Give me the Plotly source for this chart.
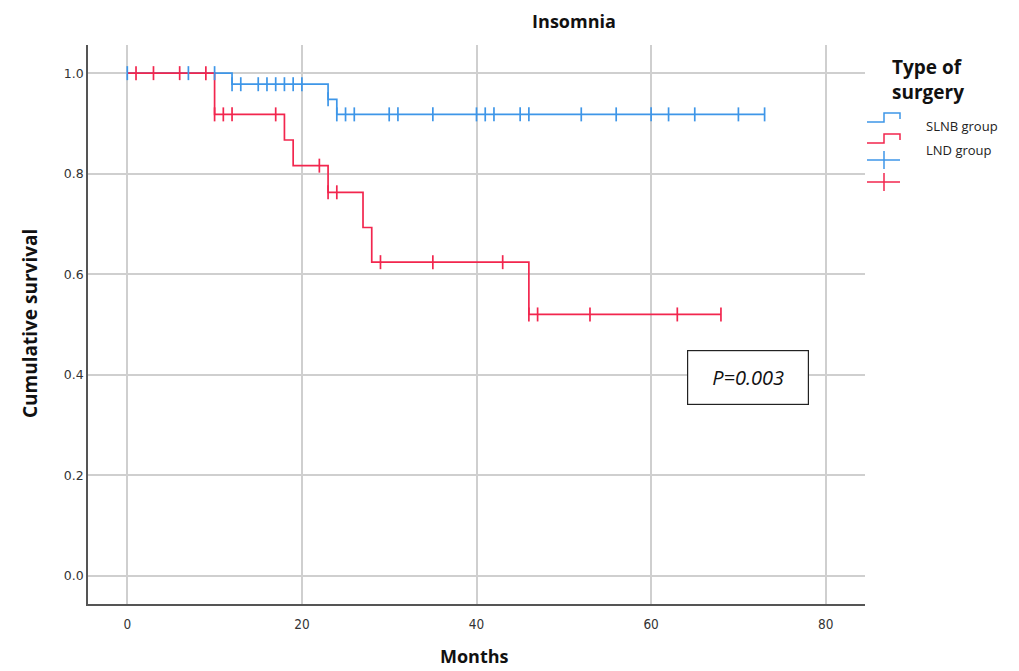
import plotly.graph_objects as go

# ---- data ----
slnb_time = [0, 12, 23, 24, 73]
slnb_surv = [1.0, 0.978, 0.948, 0.918, 0.918]
slnb_cens_t = [0, 7, 10, 12, 13, 15, 16, 17, 18, 19, 20, 23, 24, 25, 26, 30, 31, 35,
               40, 41, 42, 45, 46, 52, 56, 60, 62, 65, 70, 73]
slnb_cens_s = [1.0, 1.0, 1.0, 0.978, 0.978, 0.978, 0.978, 0.978, 0.978, 0.978, 0.978, 0.948,
               0.918, 0.918, 0.918, 0.918, 0.918, 0.918, 0.918, 0.918, 0.918, 0.918, 0.918,
               0.918, 0.918, 0.918, 0.918, 0.918, 0.918, 0.918]

lnd_time = [0, 10, 18, 19, 23, 27, 28, 46, 68]
lnd_surv = [1.0, 0.918, 0.867, 0.816, 0.763, 0.693, 0.624, 0.520, 0.520]
lnd_cens_t = [1, 3, 6, 9, 10, 11, 12, 17, 22, 23, 24, 29, 35, 43, 46, 47, 53, 63, 68]
lnd_cens_s = [1.0, 1.0, 1.0, 1.0, 0.918, 0.918, 0.918, 0.918, 0.816, 0.763, 0.763,
              0.624, 0.624, 0.624, 0.520, 0.520, 0.520, 0.520, 0.520]

x_ticks = [0, 20, 40, 60, 80]
y_ticks = [0.0, 0.2, 0.4, 0.6, 0.8, 1.0]
y_tick_labels = ["0.0", "0.2", "0.4", "0.6", "0.8", "1.0"]
group_names = ["SLNB group", "LND group"]

BLUE = "rgb(62,150,232)"
RED = "rgb(242,38,78)"

fig = go.Figure()
fig.add_trace(go.Scatter(x=slnb_time, y=slnb_surv, mode="lines", line_shape="hv",
                         line=dict(color=BLUE, width=1.7), showlegend=False))
fig.add_trace(go.Scatter(x=lnd_time, y=lnd_surv, mode="lines", line_shape="hv",
                         line=dict(color=RED, width=1.7), showlegend=False))
fig.add_trace(go.Scatter(x=slnb_cens_t, y=slnb_cens_s, mode="markers",
                         marker=dict(symbol="line-ns", size=10, line=dict(color=BLUE, width=1.7)),
                         showlegend=False))
fig.add_trace(go.Scatter(x=lnd_cens_t, y=lnd_cens_s, mode="markers",
                         marker=dict(symbol="line-ns", size=10, line=dict(color=RED, width=1.7)),
                         showlegend=False))

W, H = 1019, 671
L, R, T, B = 88, 154, 45, 67

def px(xp):
    return (xp - L) / (W - L - R)

def py(yp):
    return 1 - (yp - T) / (H - T - B)

shapes = []
# legend icons (step shapes and crosses)
for i, col in enumerate([BLUE, RED]):
    y0 = 122 + i * 21
    path = "M {} {} L {} {} L {} {} L {} {} L {} {}".format(
        px(867), py(y0), px(884), py(y0), px(884), py(y0 - 9), px(900), py(y0 - 9), px(900), py(y0 - 3))
    shapes.append(dict(type="path", xref="paper", yref="paper", path=path,
                       line=dict(color=col, width=1.5)))
for i, col in enumerate([BLUE, RED]):
    yc = 160 + i * 22
    shapes.append(dict(type="line", xref="paper", yref="paper", x0=px(867), x1=px(900),
                       y0=py(yc), y1=py(yc), line=dict(color=col, width=1.5)))
    shapes.append(dict(type="line", xref="paper", yref="paper", x0=px(884), x1=px(884),
                       y0=py(yc - 9), y1=py(yc + 9), line=dict(color=col, width=1.5)))

annotations = [
    dict(text="<b>Type of<br>surgery</b>", xref="paper", yref="paper", x=px(890), y=py(52),
         xanchor="left", yanchor="top", showarrow=False, align="left",
         font=dict(family="Open Sans", size=19, color="#111")),
    dict(text="<i>P=0.003</i>", xref="paper", yref="paper", x=px(748), y=py(377),
         xanchor="center", yanchor="middle", showarrow=False,
         font=dict(family="Open Sans", size=20, color="#111"),
         bordercolor="#222", borderwidth=1.2, width=118, height=51, bgcolor="white"),
    dict(text="<b>Months</b>", xref="paper", yref="paper", x=px(474), y=py(656),
         xanchor="center", yanchor="middle", showarrow=False,
         font=dict(family="Open Sans", size=18, color="#111")),
    dict(text="<b>Cumulative survival</b>", xref="paper", yref="paper", x=px(30), y=py(324),
         xanchor="center", yanchor="middle", showarrow=False, textangle=-90,
         font=dict(family="Open Sans", size=19, color="#111")),
]
for i, name in enumerate(group_names):
    annotations.append(dict(text=name, xref="paper", yref="paper", x=px(924), y=py(126 + i * 24),
                            xanchor="left", yanchor="middle", showarrow=False,
                            font=dict(family="Open Sans", size=13, color="#222")))

fig.update_layout(
    width=W, height=H,
    margin=dict(l=L, r=R, t=T, b=B, autoexpand=False),
    plot_bgcolor="white", paper_bgcolor="white",
    title=dict(text="<b>Insomnia</b>", xref="container", x=574 / W, xanchor="center",
               yref="container", y=1 - 22 / H, yanchor="middle",
               font=dict(family="Open Sans", size=18, color="#111")),
    shapes=shapes, annotations=annotations,
    xaxis=dict(range=[-4.5, 84.5], tickvals=x_ticks, showgrid=True, gridcolor="#cfcfcf", gridwidth=1.5,
               zeroline=False, showline=True, linecolor="#555", linewidth=1.5, automargin=False,
               ticks="outside", ticklen=7, tickcolor="rgba(0,0,0,0)",
               tickfont=dict(family="DejaVu Sans Condensed", size=13.5, color="#333")),
    yaxis=dict(range=[-0.056, 1.056], tickvals=y_ticks, ticktext=y_tick_labels, showgrid=True,
               gridcolor="#cfcfcf", gridwidth=1.5, zeroline=False, showline=True, automargin=False,
               linecolor="#555", linewidth=1.5,
               tickfont=dict(family="DejaVu Sans", size=12.5, color="#333")),
)

fig.write_html("out.html")
